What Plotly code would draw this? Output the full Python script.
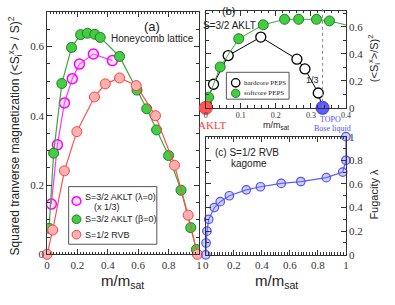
import plotly.graph_objects as go

# ---------------- data ----------------
# Panel (a): honeycomb lattice
aklt_lam_x = [0.028, 0.068, 0.114, 0.166, 0.213, 0.305, 0.43]
aklt_lam_y = [0.145, 0.316, 0.437, 0.507, 0.549, 0.578, 0.559]

aklt_beta_x = [0.013, 0.043, 0.097, 0.161, 0.221, 0.265, 0.314, 0.35, 0.477,
               0.592, 0.656, 0.721, 0.80, 0.882, 0.946, 0.983]
aklt_beta_y = [0.075, 0.292, 0.493, 0.597, 0.634, 0.638, 0.635, 0.626, 0.571,
               0.474, 0.42, 0.359, 0.285, 0.185, 0.077, 0.014]

rvb_x = [0.0, 0.037, 0.114, 0.196, 0.312, 0.383, 0.477, 0.587, 0.714, 0.839, 0.929, 0.99]
rvb_y = [0.0, 0.07, 0.241, 0.354, 0.454, 0.492, 0.509, 0.487, 0.40, 0.257, 0.113, 0.0]

# Panel (b): S=3/2 AKLT, PEPS
hard_x = [0.001, 0.022, 0.064, 0.157, 0.260, 0.283, 0.321, 0.333]
hard_y = [0.03, 0.175, 0.388, 0.525, 0.361, 0.289, 0.110, 0.0]
soft_x = [0.0, 0.008, 0.041, 0.094, 0.164, 0.225, 0.265, 0.316, 0.353, 0.44]
soft_y = [0.0, 0.079, 0.303, 0.513, 0.616, 0.657, 0.657, 0.657, 0.645, 0.59]
aklt_pt_x = [0.0]
aklt_pt_y = [0.0]
topo_pt_x = [1 / 3]
topo_pt_y = [0.0]

# Panel (c): S=1/2 RVB kagome, fugacity
fug_x = [0.0, 0.002, 0.008, 0.021, 0.061, 0.103, 0.168, 0.289, 0.39, 0.538,
         0.678, 0.86, 0.977, 1.0, 1.0]
fug_y = [0.0, 0.10, 0.20, 0.30, 0.40, 0.45, 0.50, 0.55, 0.576, 0.604,
         0.62, 0.653, 0.70, 0.80, 1.0]

legend_a_labels = ["S=3/2 AKLT (λ=0)", "S=3/2 AKLT (β=0)", "S=1/2 RVB"]
legend_b_labels = ["hardcore PEPS", "softcore PEPS"]

# ---------------- styles ----------------
W, H = 395, 305


def px(p):
    return p / W


def py(p):
    return 1 - p / H


SANS = "Liberation Sans, Arial, sans-serif"
SERIF = "Liberation Serif, Times New Roman, serif"

MAG = dict(fill="rgba(255,120,255,0.25)", edge="#ff00ff", line="#ff33ff")
GRN = dict(fill="#44cc44", edge="#1f7f1f", line="#3aa83a")
RED = dict(fill="#ffb0b0", edge="#ff4040", line="#ff5050")
BLK = dict(fill="white", edge="black", line="black")
BLU = dict(fill="rgba(120,120,255,0.35)", edge="#5050ff", line="#5b5bff")

fig = go.Figure()


def series(x, y, st, xa, ya, size=10, lw=1.2, ew=1.0, clip=True):
    fig.add_trace(go.Scatter(
        x=x, y=y, mode="lines+markers", showlegend=False,
        line=dict(color=st["line"], width=lw),
        marker=dict(symbol="circle", size=size, color=st["fill"],
                    line=dict(color=st["edge"], width=ew)),
        cliponaxis=clip, xaxis=xa, yaxis=ya))


# Panel (a)
series(aklt_lam_x, aklt_lam_y, MAG, "x", "y", ew=1.5)
series(aklt_beta_x, aklt_beta_y, GRN, "x", "y")
series(rvb_x, rvb_y, RED, "x", "y", clip=False)
# Panel (b)
series(hard_x, hard_y, BLK, "x2", "y2", lw=1, ew=1.3)
series(soft_x, soft_y, GRN, "x2", "y2", lw=1)
fig.add_trace(go.Scatter(
    x=aklt_pt_x, y=aklt_pt_y, mode="markers", showlegend=False,
    marker=dict(symbol="circle", size=13, color="#ff5555",
                line=dict(color="#ff3333", width=1)),
    cliponaxis=False, xaxis="x2", yaxis="y2"))
fig.add_trace(go.Scatter(
    x=topo_pt_x, y=topo_pt_y, mode="markers", showlegend=False,
    marker=dict(symbol="circle", size=13, color="#5b5bff",
                line=dict(color="#3333ff", width=1)),
    cliponaxis=False, xaxis="x2", yaxis="y2"))
# Panel (c)
series(fug_x, fug_y, BLU, "x3", "y3", size=8.5, ew=1.2, clip=False)

axis_common = dict(showline=True, linecolor="#333", linewidth=1, mirror="allticks",
                   ticks="inside", ticklen=5, tickcolor="#333", showgrid=False,
                   zeroline=False, tickfont=dict(family=SERIF, size=11, color="#333"))

fig.update_layout(
    width=W, height=H, margin=dict(l=0, r=0, t=0, b=0),
    paper_bgcolor="white", plot_bgcolor="white", showlegend=False,
    xaxis=dict(domain=[px(45), px(200)], range=[0, 1], dtick=0.2, tickformat="~g",
               minor=dict(ticks="inside", ticklen=2.5, dtick=0.02, tickcolor="#333"),
               anchor="y", **axis_common),
    yaxis=dict(domain=[py(258.5), py(6)], range=[0, 0.7], dtick=0.2, tickformat="~g",
               minor=dict(ticks="inside", ticklen=3, dtick=0.05, tickcolor="#333"),
               anchor="x", **axis_common),
    xaxis2=dict(domain=[px(207), px(350)], range=[0, 0.4], dtick=0.1, tickformat="~g",
                minor=dict(ticks="inside", ticklen=2.5, dtick=0.02, tickcolor="#333"),
                anchor="y2", **{**axis_common, "tickfont": dict(family=SERIF, size=8, color="#333")}),
    yaxis2=dict(domain=[py(106), py(5)], range=[0, 0.72], dtick=0.2, tickformat="~g",
                side="right",
                minor=dict(ticks="inside", ticklen=3, dtick=0.1, tickcolor="#333"),
                anchor="x2", **axis_common),
    xaxis3=dict(domain=[px(207), px(350)], range=[0, 1], dtick=0.2, tickformat="~g",
                minor=dict(ticks="inside", ticklen=2.5, dtick=0.02, tickcolor="#333"),
                anchor="y3", **axis_common),
    yaxis3=dict(domain=[py(259), py(136)], range=[0, 1], dtick=0.2, tickformat="~g",
                side="right",
                minor=dict(ticks="inside", ticklen=3, dtick=0.1, tickcolor="#333"),
                anchor="x3", **axis_common),
)

fig.add_shape(type="line", xref="x2", yref="paper", x0=1 / 3, x1=1 / 3,
              y0=py(106), y1=1, line=dict(color="#888", width=1, dash="dot"))


def ann(text, x, y, size, color="#222", family=SANS, angle=0, xanchor="center"):
    fig.add_annotation(text=text, x=px(x), y=py(y), xref="paper", yref="paper",
                       showarrow=False, xanchor=xanchor, yanchor="middle",
                       textangle=angle, font=dict(family=family, size=size, color=color))


# ---- legend boxes (drawn as legend keys) ----
def legend_box(x0, y0, x1, y1):
    fig.add_shape(type="rect", xref="paper", yref="paper", layer="above",
                  x0=px(x0), x1=px(x1), y0=py(y1), y1=py(y0),
                  fillcolor="white", line=dict(color="#555", width=1))


def legend_key(cx, cy, st, r=4.5, ew=1.0):
    fig.add_shape(type="circle", xref="paper", yref="paper", layer="above",
                  x0=px(cx - r), x1=px(cx + r), y0=py(cy + r), y1=py(cy - r),
                  fillcolor=st["fill"], line=dict(color=st["edge"], width=ew))


legend_box(67, 188, 157, 248)
for (cy, st, ew), label in zip([(203, MAG, 1.5), (222, GRN, 1.0), (238, RED, 1.0)],
                               legend_a_labels):
    legend_key(75, cy, st, ew=ew)
    ann(label, 82, cy - (4 if st is MAG else 0), 9, xanchor="left")
ann("(x 1/3)", 106, 209, 9)

legend_box(228, 69, 292, 97)
for (cy, st, ew), label in zip([(80, BLK, 1.3), (91, GRN, 1.0)], legend_b_labels):
    legend_key(237.5, cy, st, r=4.3, ew=ew)
    ann(label, 244, cy, 7, family=SERIF, xanchor="left")

ann("(a)", 152, 21, 13)
ann("Honeycomb lattice", 153, 34, 10)
ann("(b)", 230, 5, 11)
ann("S=3/2 AKLT", 231, 20, 10)
ann("1/3", 316, 77, 9)
ann("AKLT", 214, 124, 11, color="#ff4040", family=SERIF)
ann("TOPO", 334, 118, 8, color="#5050ff", family=SERIF)
ann("Bose liquid", 336, 127, 8, color="#5050ff", family=SERIF)
ann("m/m<sub>sat</sub>", 279, 124, 9)
ann("(c) S=1/2 RVB", 249, 152, 10)
ann("kagome", 251, 164, 10)
ann("m/m<sub>sat</sub>", 122, 287, 15)
ann("m/m<sub>sat</sub>", 279, 287, 15)
ann("Squared tranverse magnetization (&lt;S<sub>i</sub><sup>x</sup>&gt; / S)<sup>2</sup>",
    12, 135, 12, angle=-90)
ann("(&lt;S<sub>i</sub><sup>x</sup>&gt;/S)<sup>2</sup>", 379, 54, 11, angle=-90)
ann("Fugacity λ", 379, 196, 11, angle=-90)

fig.write_html("out.html", config={"displayModeBar": False},
               post_script="document.body.style.margin='0';")
